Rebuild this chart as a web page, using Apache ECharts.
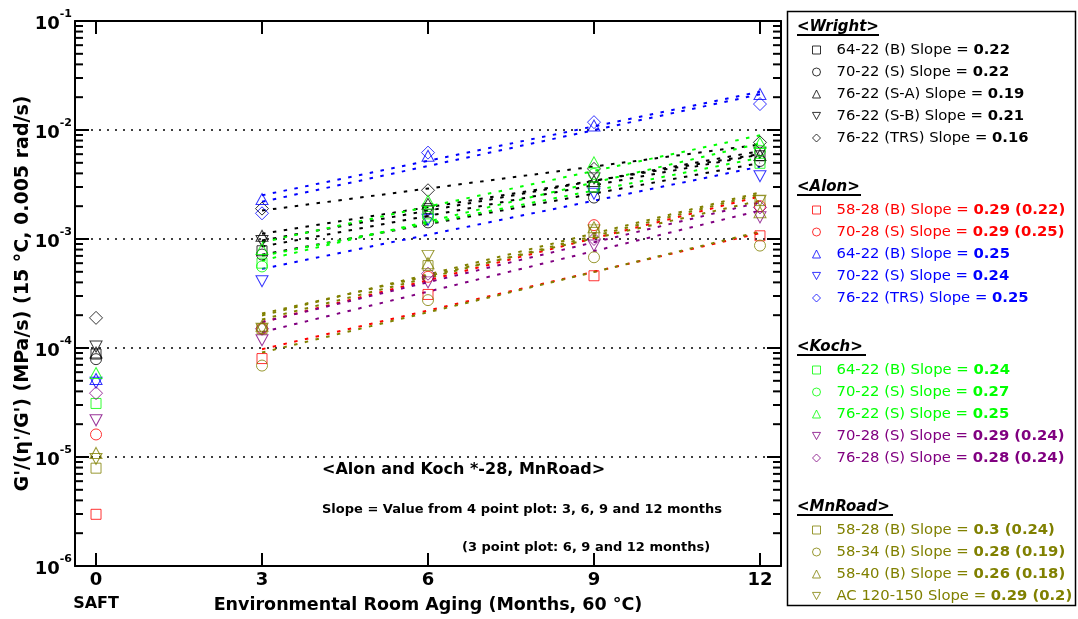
<!DOCTYPE html>
<html><head><meta charset="utf-8">
<script src="https://cdn.jsdelivr.net/npm/echarts@6/dist/echarts.min.js"></script>
<style>html,body{margin:0;padding:0;background:#fff}#c{width:1078px;height:619px}</style>
</head><body><div id="c"></div>
<script>
// ---------- data ----------
const months = [0, 3, 6, 9, 12];
const xTickLabels = ['0', '3', '6', '9', '12'];
const yDecades = [1e-6, 1e-5, 1e-4, 1e-3, 1e-2, 1e-1];
// Wright
const wright_64_22_B   = [8.8e-5, 7.8e-4, 1.9e-3, 3.0e-3, 5.8e-3];
const wright_70_22_S   = [7.9e-5, 7.2e-4, 1.42e-3, 2.4e-3, 5.2e-3];
const wright_76_22_SA  = [9.1e-5, 1.07e-3, 2.1e-3, 3.4e-3, 5.9e-3];
const wright_76_22_SB  = [1.03e-4, 9.6e-4, 1.8e-3, 3.6e-3, 6.2e-3];
const wright_76_22_TRS = [1.89e-4, 1.9e-3, 2.8e-3, 4.4e-3, 7.7e-3];
// Alon
const alon_58_28_B   = [2.98e-6, 8.0e-5, 3.1e-4, 4.6e-4, 1.07e-3];
const alon_70_28_S   = [1.61e-5, 1.5e-4, 4.5e-4, 1.34e-3, 2.0e-3];
const alon_64_22_B   = [5.2e-5, 2.33e-3, 5.8e-3, 1.1e-2, 2.14e-2];
const alon_70_22_S   = [4.8e-5, 4.1e-4, 1.5e-3, 2.6e-3, 3.76e-3];
const alon_76_22_TRS = [null, 1.72e-3, 6.2e-3, 1.18e-2, 1.73e-2];
// Koch
const koch_64_22_B = [3.1e-5, 6.0e-4, 1.7e-3, 3.0e-3, 4.95e-3];
const koch_70_22_S = [null, 5.6e-4, 1.6e-3, 3.95e-3, 6.45e-3];
const koch_76_22_S = [5.9e-5, 8.1e-4, 2.24e-3, 5.05e-3, 7.6e-3];
const koch_70_28_S = [2.17e-5, 1.18e-4, 4.0e-4, 8.7e-4, 1.58e-3];
const koch_76_28_S = [3.85e-5, 1.5e-4, 4.8e-4, 1.0e-3, 1.95e-3];
// MnRoad
const mn_58_28_B    = [7.9e-6, 1.5e-4, 5.7e-4, 1.15e-3, 2.25e-3];
const mn_58_34_B    = [null, 6.9e-5, 2.75e-4, 6.8e-4, 8.7e-4];
const mn_58_40_B    = [1.09e-5, 1.6e-4, 6.0e-4, 1.28e-3, 1.76e-3];
const mn_AC_120_150 = [9.6e-6, 1.5e-4, 7.0e-4, 1.2e-3, 2.25e-3];

const groupTitles = ['<Wright>', '<Alon>', '<Koch>', '<MnRoad>'];

// ---------- table of series ----------
const COLORS = ['#000000', '#ff0000', '#0000ff', '#00ff00', '#800080', '#808000'];
const defs = [
  {g:0, key:'Wright 64-22 (B)',   label:'64-22 (B) Slope = ',   slope:'0.22', data:wright_64_22_B,   c:0, shape:'sq'},
  {g:0, key:'Wright 70-22 (S)',   label:'70-22 (S) Slope = ',   slope:'0.22', data:wright_70_22_S,   c:0, shape:'ci'},
  {g:0, key:'Wright 76-22 (S-A)', label:'76-22 (S-A) Slope = ', slope:'0.19', data:wright_76_22_SA,  c:0, shape:'up'},
  {g:0, key:'Wright 76-22 (S-B)', label:'76-22 (S-B) Slope = ', slope:'0.21', data:wright_76_22_SB,  c:0, shape:'dn'},
  {g:0, key:'Wright 76-22 (TRS)', label:'76-22 (TRS) Slope = ', slope:'0.16', data:wright_76_22_TRS, c:0, shape:'di'},
  {g:1, key:'Alon 58-28 (B)',     label:'58-28 (B) Slope = ',   slope:'0.29 (0.22)', data:alon_58_28_B,   c:1, shape:'sq'},
  {g:1, key:'Alon 70-28 (S)',     label:'70-28 (S) Slope = ',   slope:'0.29 (0.25)', data:alon_70_28_S,   c:1, shape:'ci'},
  {g:1, key:'Alon 64-22 (B)',     label:'64-22 (B) Slope = ',   slope:'0.25', data:alon_64_22_B,   c:2, shape:'up'},
  {g:1, key:'Alon 70-22 (S)',     label:'70-22 (S) Slope = ',   slope:'0.24', data:alon_70_22_S,   c:2, shape:'dn'},
  {g:1, key:'Alon 76-22 (TRS)',   label:'76-22 (TRS) Slope = ', slope:'0.25', data:alon_76_22_TRS, c:2, shape:'di'},
  {g:2, key:'Koch 64-22 (B)',     label:'64-22 (B) Slope = ',   slope:'0.24', data:koch_64_22_B, c:3, shape:'sq'},
  {g:2, key:'Koch 70-22 (S)',     label:'70-22 (S) Slope = ',   slope:'0.27', data:koch_70_22_S, c:3, shape:'ci'},
  {g:2, key:'Koch 76-22 (S)',     label:'76-22 (S) Slope = ',   slope:'0.25', data:koch_76_22_S, c:3, shape:'up'},
  {g:2, key:'Koch 70-28 (S)',     label:'70-28 (S) Slope = ',   slope:'0.29 (0.24)', data:koch_70_28_S, c:4, shape:'dn'},
  {g:2, key:'Koch 76-28 (S)',     label:'76-28 (S) Slope = ',   slope:'0.28 (0.24)', data:koch_76_28_S, c:4, shape:'di'},
  {g:3, key:'MnRoad 58-28 (B)',   label:'58-28 (B) Slope = ',   slope:'0.3 (0.24)',  data:mn_58_28_B,    c:5, shape:'sq'},
  {g:3, key:'MnRoad 58-34 (B)',   label:'58-34 (B) Slope = ',   slope:'0.28 (0.19)', data:mn_58_34_B,    c:5, shape:'ci'},
  {g:3, key:'MnRoad 58-40 (B)',   label:'58-40 (B) Slope = ',   slope:'0.26 (0.18)', data:mn_58_40_B,    c:5, shape:'up'},
  {g:3, key:'MnRoad AC 120-150',  label:'AC 120-150 Slope = ',  slope:'0.29 (0.2)',  data:mn_AC_120_150, c:5, shape:'dn'}
];

const FONT = "'DejaVu Sans', sans-serif";
const SHAPES = {
  sq: {symbol:'rect', size:10, rot:0, icon:'rect'},
  ci: {symbol:'circle', size:11, rot:0, icon:'circle'},
  up: {symbol:'triangle', size:[12,11], rot:0, icon:'triangle'},
  dn: {symbol:'triangle', size:[12,11], rot:180, icon:'path://M0,0L10,0L5,9Z'},
  di: {symbol:'diamond', size:[13,13], rot:0, icon:'diamond'}
};

// exponential least-squares fit over the aged points (3..12 months)
function fitLine(vals) {
  const xs = [], ys = [];
  for (let i = 0; i < months.length; i++) {
    if (months[i] >= 3 && vals[i] != null) { xs.push(months[i]); ys.push(Math.log(vals[i])); }
  }
  const n = xs.length;
  const mx = xs.reduce((a,b)=>a+b,0)/n, my = ys.reduce((a,b)=>a+b,0)/n;
  let sxy = 0, sxx = 0;
  for (let i = 0; i < n; i++) { sxy += (xs[i]-mx)*(ys[i]-my); sxx += (xs[i]-mx)*(xs[i]-mx); }
  const b = sxy/sxx, a = my - b*mx;
  const x0 = xs[0], x1 = xs[n-1];
  return [[x0, Math.exp(a+b*x0)], [x1, Math.exp(a+b*x1)]];
}

// y ticks for log axis (major decades + minor 2..9)
const yTickValues = [];
yDecades.forEach((d, i) => {
  yTickValues.push(d);
  if (i < yDecades.length - 1) for (let m = 2; m <= 9; m++) yTickValues.push(m * d);
});

const LFS = 14.8;
const rich = {};
COLORS.forEach((col, i) => {
  rich['n' + i] = {color: col, fontFamily: FONT, fontSize: LFS, lineHeight: 18};
  rich['b' + i] = {color: col, fontFamily: FONT, fontSize: LFS, lineHeight: 18, fontWeight: 'bold'};
});
const labelMap = {};
defs.forEach(d => { labelMap[d.key] = '{n' + d.c + '|' + d.label + '}{b' + d.c + '|' + d.slope + '}'; });

const series = [];
defs.forEach(d => {
  series.push({
    name: d.key + ' fit', type: 'line', data: fitLine(d.data), showSymbol: false, symbol: 'none',
    silent: true, z: 2,
    lineStyle: {color: COLORS[d.c], width: 2, type: [3.5, 7.5]}
  });
});
defs.forEach(d => {
  const s = SHAPES[d.shape];
  series.push({
    name: d.key, type: 'scatter', z: 3,
    symbol: s.symbol, symbolSize: s.size, symbolRotate: s.rot,
    itemStyle: {color: 'rgba(255,255,255,0)', borderColor: COLORS[d.c], borderWidth: 1},
    data: months.map((m, i) => d.data[i] == null ? null : [m, d.data[i]]).filter(p => p)
  });
});
// axis ticks on both y edges
series.push({
  name: 'yticks', type: 'custom', silent: true, z: 5,
  data: yTickValues.map(v => [0, v]),
  renderItem: (params, api) => {
    const v = api.value(1);
    const y = api.coord([0, v])[1];
    const cs = params.coordSys;
    const lg = Math.log10(v);
    const major = Math.abs(lg - Math.round(lg)) < 1e-6;
    const len = major ? 14 : 8;
    return {type: 'group', children: [
      {type: 'line', shape: {x1: cs.x, y1: y, x2: cs.x + len, y2: y}, style: {stroke: '#000', lineWidth: 2}},
      {type: 'line', shape: {x1: cs.x + cs.width, y1: y, x2: cs.x + cs.width - len, y2: y}, style: {stroke: '#000', lineWidth: 2}}
    ]};
  }
});

const legendTops = [41, 201, 361, 521];
const legends = groupTitles.map((t, gi) => ({
  orient: 'vertical', left: 812, top: legendTops[gi], padding: 0,
  itemWidth: 8, itemHeight: 8, itemGap: 4,
  selectedMode: false,
  itemStyle: {borderWidth: 1},
  data: defs.filter(d => d.g === gi).map(d => ({
    name: d.key, icon: SHAPES[d.shape].icon,
    itemStyle: {color: 'rgba(255,255,255,0)', borderColor: COLORS[d.c], borderWidth: 1}
  })),
  formatter: name => labelMap[name],
  textStyle: {fontFamily: FONT, fontSize: LFS, lineHeight: 18, padding: [0, 0, 0, 11], rich: rich}
}));

const headerY = [27, 187, 347, 507];
const underlineEnd = [879, 861, 866, 893];
const graphics = [
  {type: 'rect', shape: {x: 787.5, y: 11.5, width: 288, height: 594}, style: {fill: 'none', stroke: '#000', lineWidth: 1.5}, z: 10}
];
groupTitles.forEach((t, i) => {
  graphics.push({type: 'text', x: 797, y: headerY[i], z: 10,
    style: {text: t, font: "italic bold 15px 'DejaVu Sans'", fill: '#000', verticalAlign: 'middle'}});
  graphics.push({type: 'line', z: 10, shape: {x1: 797, y1: headerY[i] + 8, x2: underlineEnd[i], y2: headerY[i] + 8},
    style: {stroke: '#000', lineWidth: 2}});
});
graphics.push({type: 'text', x: 322, y: 470, z: 10,
  style: {text: '<Alon and Koch *-28, MnRoad>', font: "bold 16px 'DejaVu Sans'", fill: '#000', verticalAlign: 'middle'}});
graphics.push({type: 'text', x: 322, y: 510, z: 10,
  style: {text: 'Slope = Value from 4 point plot: 3, 6, 9 and 12 months', font: "bold 13px 'DejaVu Sans'", fill: '#000', verticalAlign: 'middle'}});
graphics.push({type: 'text', x: 462, y: 548, z: 10,
  style: {text: '(3 point plot: 6, 9 and 12 months)', font: "bold 13px 'DejaVu Sans'", fill: '#000', verticalAlign: 'middle'}});

const option = {
  animation: false,
  backgroundColor: '#fff',
  grid: {left: 75, right: 297, top: 21, bottom: 53, containLabel: false, outerBoundsMode: 'none'},
  legend: legends,
  graphic: graphics,
  xAxis: [{
    type: 'value', min: -0.38, max: 12.38, position: 'bottom',
    name: 'Environmental Room Aging (Months, 60 °C)', nameLocation: 'middle', nameGap: 30, nameMoveOverlap: false,
    nameTextStyle: {fontFamily: FONT, fontSize: 17.5, fontWeight: 'bold', color: '#000'},
    axisLine: {show: true, onZero: false, lineStyle: {color: '#000', width: 2}},
    axisTick: {show: true, inside: true, length: 13, customValues: months, lineStyle: {color: '#000', width: 2}},
    axisLabel: {
      customValues: months, margin: 4, color: '#000',
      formatter: v => { const i = months.indexOf(v); const t = i >= 0 ? xTickLabels[i] : String(v); return v === 0 ? '{v|' + t + '}\n{s|SAFT}' : '{v|' + t + '}'; },
      rich: {
        v: {fontFamily: FONT, fontSize: 18, fontWeight: 'bold', color: '#000', lineHeight: 20},
        s: {fontFamily: FONT, fontSize: 16, fontWeight: 'bold', color: '#000', lineHeight: 28}
      }
    },
    splitLine: {show: false}
  }, {
    type: 'value', min: -0.38, max: 12.38, position: 'top',
    axisLine: {show: true, onZero: false, lineStyle: {color: '#000', width: 2}},
    axisTick: {show: true, inside: true, length: 13, customValues: months, lineStyle: {color: '#000', width: 2}},
    axisLabel: {show: false}, splitLine: {show: false}
  }],
  yAxis: [{
    type: 'log', logBase: 10, min: 1e-6, max: 1e-1, splitNumber: 5, position: 'left',
    name: "G'/(η'/G') (MPa/s) (15 °C, 0.005 rad/s)", nameLocation: 'middle', nameGap: 42, nameRotate: 90, nameMoveOverlap: false,
    nameTextStyle: {fontFamily: FONT, fontSize: 19, fontWeight: 'bold', color: '#000'},
    axisLine: {show: true, onZero: false, lineStyle: {color: '#000', width: 2}},
    axisTick: {show: false},
    minorTick: {show: false},
    axisLabel: {
      margin: 3,
      formatter: v => '{b|10}{s|' + Math.round(Math.log10(v)) + '}',
      rich: {
        b: {fontFamily: FONT, fontSize: 18, fontWeight: 'bold', color: '#000', lineHeight: 24, verticalAlign: 'bottom'},
        s: {fontFamily: FONT, fontSize: 11, fontWeight: 'bold', color: '#000', lineHeight: 14, verticalAlign: 'top'}
      }
    },
    splitLine: {show: true, lineStyle: {color: '#000', width: 1.5, type: [2, 6]}}
  }, {
    type: 'log', logBase: 10, min: 1e-6, max: 1e-1, position: 'right',
    axisLine: {show: true, onZero: false, lineStyle: {color: '#000', width: 2}},
    axisTick: {show: false}, axisLabel: {show: false}, splitLine: {show: false}
  }],
  series: series
};
const chart = echarts.init(document.getElementById('c'), null, {renderer: 'canvas'});
chart.setOption(option);
</script>
</body></html>
